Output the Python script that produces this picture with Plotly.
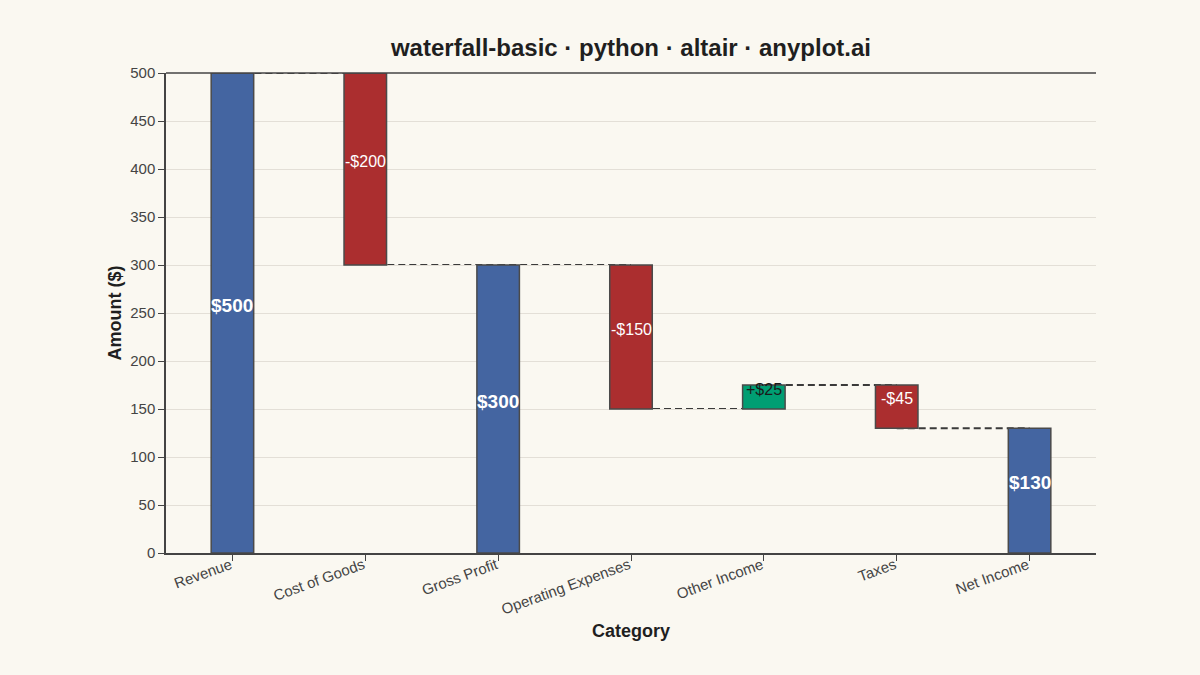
import plotly.graph_objects as go

categories = ["Revenue", "Cost of Goods", "Gross Profit", "Operating Expenses",
              "Other Income", "Taxes", "Net Income"]
changes = [500, -200, 0, -150, 25, -45, 0]
kinds = ["total", "change", "total", "change", "change", "change", "total"]

blue = "#4465A1"
red = "#AB2E2F"
green = "#009E73"
bg = "#FAF8F1"
font = "Liberation Sans, Arial, sans-serif"

# running totals -> bar base / top
bases, tops, colors, labels = [], [], [], []
running = 0
for c, k in zip(changes, kinds):
    if k == "total":
        running = running + c
        bases.append(0)
        tops.append(running)
        colors.append(blue)
        labels.append("$" + str(running))
    else:
        start = running
        running = running + c
        bases.append(min(start, running))
        tops.append(max(start, running))
        colors.append(green if c > 0 else red)
        labels.append(("+$" if c > 0 else "-$") + str(abs(c)))

fig = go.Figure()
fig.add_trace(go.Bar(
    x=categories,
    y=[t - b for t, b in zip(tops, bases)],
    base=bases,
    width=0.32,
    marker=dict(color=colors, line=dict(color="#4a4a4a", width=1.5)),
    hoverinfo="skip",
    showlegend=False,
))

# dashed connectors, center to center, behind bars
for i in range(len(categories) - 1):
    lvl = tops[i] if (kinds[i] == "total" or changes[i] > 0) else bases[i]
    fig.add_shape(type="line", xref="x", yref="y", x0=i, x1=i + 1, y0=lvl, y1=lvl,
                  line=dict(color="#3a3a3a", width=2, dash="7px,4px"), layer="below")

# labels
for i, cat in enumerate(categories):
    mid = (tops[i] + bases[i]) / 2
    if kinds[i] == "total":
        f = dict(family=font, size=19, color="white", weight="bold")
    elif changes[i] > 0:
        f = dict(family=font, size=16, color="#1a1a1a")
    else:
        f = dict(family=font, size=16, color="white")
    fig.add_annotation(x=cat, y=mid, text=labels[i], showarrow=False, font=f, yshift=8)

# top border line of the view
fig.add_shape(type="line", xref="paper", yref="paper", x0=0, x1=1, y0=1, y1=1,
              line=dict(color="#444444", width=1.5))

fig.update_layout(
    width=1200, height=675,
    paper_bgcolor=bg, plot_bgcolor=bg,
    margin=dict(l=166, r=104, t=73, b=122),
    font=dict(family=font, color="#444444"),
    title=dict(text="waterfall-basic · python · altair · anyplot.ai",
               x=0.5, xref="paper", y=0.942, yref="container", xanchor="center",
               font=dict(family=font, size=24, color="#1f1f1f", weight="bold")),
    xaxis=dict(
        title=dict(text="Category", font=dict(size=18, color="#1f1f1f", weight="bold"), standoff=8),
        tickangle=-20, tickfont=dict(size=15, color="#444444"),
        ticks="outside", ticklen=6, tickcolor="#444444",
        ticklabelshift=-2, ticklabelstandoff=-10,
        showline=True, linecolor="#444444", linewidth=1.5,
        showgrid=False,
    ),
    yaxis=dict(
        title=dict(text="Amount ($)", font=dict(size=18, color="#1f1f1f", weight="bold"), standoff=4),
        range=[0, 500], dtick=50, tickfont=dict(size=15, color="#444444"),
        ticks="outside", ticklen=6, tickcolor="#444444",
        showline=True, linecolor="#444444", linewidth=1.5,
        gridcolor="#E3DFD7", gridwidth=1, zeroline=False,
    ),
)

fig.write_html("out.html", config={"displayModeBar": False},
               post_script="document.body.style.margin='0';document.body.style.background='%s';" % bg)
